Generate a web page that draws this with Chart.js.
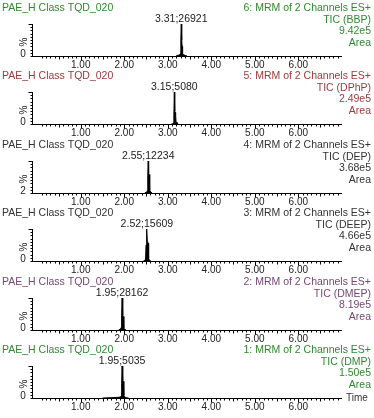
<!DOCTYPE html>
<html>
<head>
<meta charset="utf-8">
<script src="https://cdn.jsdelivr.net/npm/chart.js@4/dist/chart.umd.min.js"></script>
<style>
  body { margin: 0; background: #fff; }
  #wrap { position: relative; width: 374px; height: 418px; overflow: hidden; }
  #wrap canvas { position: absolute; left: 0; }
</style>
</head>
<body>
<div id="wrap"></div>
<script>
// chromatogram traces, one per channel (time in min, intensity in %)
const bbpTime  = [3.19, 3.23, 3.27, 3.29, 3.30, 3.31, 3.32, 3.33, 3.34, 3.36, 3.40, 3.44];
const bbpInt   = [0, 2, 3, 8, 55, 100, 50, 30, 8, 4, 2, 0];
const dphpTime = [3.08, 3.11, 3.13, 3.14, 3.15, 3.16, 3.17, 3.18, 3.19, 3.21, 3.24];
const dphpInt  = [0, 1, 3, 30, 100, 40, 36, 30, 6, 2, 0];
const depTime  = [2.47, 2.50, 2.52, 2.53, 2.54, 2.55, 2.56, 2.57, 2.58, 2.59, 2.61, 2.64];
const depInt   = [0, 2, 4, 8, 55, 100, 62, 58, 50, 8, 3, 0];
const deepTime = [2.44, 2.47, 2.49, 2.50, 2.51, 2.52, 2.53, 2.54, 2.55, 2.56, 2.58, 2.61];
const deepInt  = [0, 2, 6, 50, 55, 100, 60, 58, 55, 8, 2, 0];
const dmepTime = [1.87, 1.90, 1.92, 1.93, 1.94, 1.95, 1.96, 1.97, 1.98, 1.99, 2.01, 2.04];
const dmepInt  = [0, 2, 4, 8, 45, 100, 50, 46, 42, 6, 2, 0];
const dmpTime  = [1.50, 1.70, 1.85, 1.91, 1.93, 1.94, 1.95, 1.96, 1.97, 1.98, 1.99, 2.01, 2.05, 2.10];
const dmpInt   = [0, 1, 2, 3, 6, 45, 100, 60, 56, 52, 8, 3, 1, 0];

const panelTitle = 'PAE_H Class TQD_020';
const channels = ['6: MRM of 2 Channels ES+', '5: MRM of 2 Channels ES+', '4: MRM of 2 Channels ES+',
                  '3: MRM of 2 Channels ES+', '2: MRM of 2 Channels ES+', '1: MRM of 2 Channels ES+'];
const compounds = ['TIC (BBP)', 'TIC (DPhP)', 'TIC (DEP)', 'TIC (DEEP)', 'TIC (DMEP)', 'TIC (DMP)'];
const areas = ['9.42e5', '2.49e5', '3.68e5', '4.66e5', '8.19e5', '1.50e5'];
const peakTimes = [3.31, 3.15, 2.55, 2.52, 1.95, 1.95];
const peakLabels = ['3.31;26921', '3.15;5080', '2.55;12234', '2.52;15609', '1.95;28162', '1.95;5035'];
const yMinLabels = ['0', '0', '2', '0', '0', '0'];
const xTicks = [1, 2, 3, 4, 5, 6];
const times = [bbpTime, dphpTime, depTime, deepTime, dmepTime, dmpTime];
const intensities = [bbpInt, dphpInt, depInt, deepInt, dmepInt, dmpInt];

const colors = ['#2f8a2f', '#9a3b3b', '#333333', '#333333', '#744874', '#2f8a2f'];
const FONT = '"Liberation Sans", Arial, sans-serif';
const xMin = -0.12, xMax = 6.98;
const panelTops = [0, 68, 137, 205, 274, 342];

const wrap = document.getElementById('wrap');

// draws the MassLynx style header, y axis, minor ticks
const decor = {
    id: 'decor',
    afterDraw(chart) {
        const i = chart.options.plugins.decor.index;
        const ctx = chart.ctx;
        const area = chart.chartArea;
        const xs = chart.scales.x, ys = chart.scales.y;
        ctx.save();
        ctx.textBaseline = 'middle';
        ctx.font = '10.5px ' + FONT;
        ctx.fillStyle = colors[i];
        ctx.textAlign = 'left';
        ctx.fillText(panelTitle, 2, 8);
        ctx.textAlign = 'right';
        ctx.fillText(channels[i], 371, 8);
        ctx.fillText(compounds[i], 371, 20);
        ctx.fillText(areas[i], 371, 31.5);
        ctx.fillText('Area', 371, 43);

        // peak label
        ctx.fillStyle = '#222';
        ctx.textAlign = 'center';
        ctx.fillText(peakLabels[i], xs.getPixelForValue(peakTimes[i]), 19);

        // y axis
        ctx.strokeStyle = '#000';
        ctx.lineWidth = 1;
        ctx.beginPath();
        const ax = Math.round(area.left) + 0.5;
        ctx.moveTo(ax, area.top);
        ctx.lineTo(ax, area.bottom);
        for (let v = 0; v <= 100; v += 10) {
            const py = Math.round(ys.getPixelForValue(v)) + 0.5;
            const len = (v === 100) ? 4 : 2;
            ctx.moveTo(ax - len, py);
            ctx.lineTo(ax, py);
        }
        // x minor ticks
        const by = Math.round(area.bottom) + 0.5;
        for (let k = 1; k <= 69; k++) {
            const v = k / 10;
            const px = Math.round(xs.getPixelForValue(v)) + 0.5;
            const len = (k % 10 === 0) ? 4 : (k % 5 === 0 ? 3 : 2);
            ctx.moveTo(px, by);
            ctx.lineTo(px, by + len);
        }
        ctx.stroke();

        ctx.fillStyle = '#222';
        ctx.font = '10px ' + FONT;
        ctx.textAlign = 'center';
        ctx.fillText(yMinLabels[i], 23, area.bottom - 2);
        ctx.save();
        ctx.translate(24, (area.top + area.bottom) / 2 + 2);
        ctx.rotate(-Math.PI / 2);
        ctx.fillText('%', 0, 0);
        ctx.restore();

        if (i === 5) {
            ctx.fillStyle = '#1f7a1f';
            ctx.fillRect(4, 380, 5, 5);
            ctx.fillStyle = '#333';
            ctx.textAlign = 'left';
            ctx.fillText('Time', 346, area.bottom);
        }
        ctx.restore();
    }
};

for (let i = 0; i < 6; i++) {
    const h = (i === 5) ? 76 : 70;
    const cv = document.createElement('canvas');
    cv.width = 374;
    cv.height = h;
    cv.style.top = panelTops[i] + 'px';
    cv.style.width = '374px';
    cv.style.height = h + 'px';
    wrap.appendChild(cv);

    new Chart(cv.getContext('2d'), {
        type: 'line',
        data: {
            datasets: [{
                data: times[i].map((t, k) => ({ x: t, y: intensities[i][k] })),
                borderColor: '#000',
                backgroundColor: '#000',
                borderWidth: 1,
                fill: 'origin',
                pointRadius: 0,
                tension: 0
            }]
        },
        options: {
            responsive: false,
            animation: false,
            devicePixelRatio: 1,
            layout: { padding: { left: 32, right: 33, top: 24, bottom: 0 } },
            plugins: {
                legend: { display: false },
                tooltip: { enabled: false },
                decor: { index: i }
            },
            scales: {
                x: {
                    type: 'linear',
                    min: xMin,
                    max: xMax,
                    afterBuildTicks: s => { s.ticks = xTicks.map(v => ({ value: v })); },
                    afterFit: s => { s.height = h - 56; },
                    ticks: {
                        callback: v => Number(v).toFixed(2),
                        font: { family: FONT, size: 10 },
                        color: '#222',
                        padding: 3,
                        maxRotation: 0,
                        autoSkip: false
                    },
                    grid: { display: false, drawTicks: false },
                    border: { display: true, color: '#000', width: 1 }
                },
                y: {
                    display: false,
                    min: 0,
                    max: 100
                }
            }
        },
        plugins: [decor]
    });
}
</script>
</body>
</html>
